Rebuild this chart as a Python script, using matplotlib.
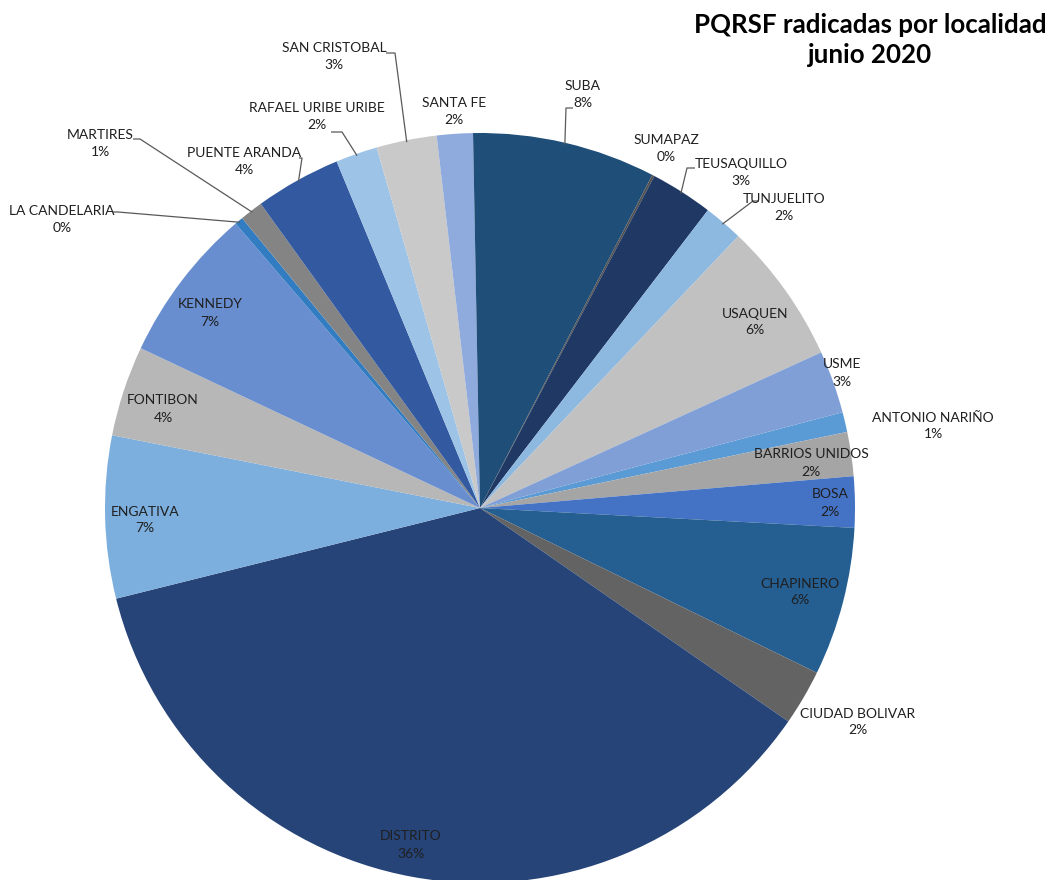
import matplotlib
matplotlib.use("Agg")
import matplotlib.pyplot as plt
import numpy as np

# ---- data (alphabetical order, as in the source table) ----
localidades = ["ANTONIO NARIÑO", "BARRIOS UNIDOS", "BOSA", "CHAPINERO", "CIUDAD BOLIVAR",
               "DISTRITO", "ENGATIVA", "FONTIBON", "KENNEDY", "LA CANDELARIA", "MARTIRES",
               "PUENTE ARANDA", "RAFAEL URIBE URIBE", "SAN CRISTOBAL", "SANTA FE", "SUBA",
               "SUMAPAZ", "TEUSAQUILLO", "TUNJUELITO", "USAQUEN", "USME"]
porcentajes = [0.86, 1.9, 2.2, 6.4, 2.4,
               36.5, 7.0, 3.9, 6.7, 0.36, 1.0,
               3.7, 1.8, 2.6, 1.55, 7.9,
               0.1, 2.7, 1.7, 6.1, 2.7]
colores = ["#5B9BD5", "#A5A5A5", "#4472C4", "#255E91", "#636363",
           "#264478", "#7CAFDD", "#B7B7B7", "#698ED0", "#327DC2", "#848484",
           "#335AA1", "#9DC3E6", "#C9C9C9", "#8FAADC", "#1F4E79",
           "#525252", "#203864", "#8DB8E0", "#C1C1C1", "#7F9FD6"]
titulo = "PQRSF radicadas por localidad\njunio 2020"

# ---- layout (pixel positions of label centres; leader elbow/tail) ----
W, H = 1056, 880
CX, CY, R = 480, 508, 375
label_px = {
    "ANTONIO NARIÑO": (933, 426), "BARRIOS UNIDOS": (811, 463), "BOSA": (830, 503),
    "CHAPINERO": (800, 592), "CIUDAD BOLIVAR": (858, 722), "DISTRITO": (411, 845),
    "ENGATIVA": (145, 520), "FONTIBON": (163, 409), "KENNEDY": (210, 313),
    "LA CANDELARIA": (62, 220), "MARTIRES": (100, 144), "PUENTE ARANDA": (244, 162),
    "RAFAEL URIBE URIBE": (317, 117), "SAN CRISTOBAL": (334, 57), "SANTA FE": (454, 112),
    "SUBA": (583, 95), "SUMAPAZ": (666, 149), "TEUSAQUILLO": (741, 173),
    "TUNJUELITO": (784, 208), "USAQUEN": (755, 322), "USME": (842, 373),
}
leaders = {  # elbow point, tail point (pixels)
    "SUBA": ((566, 108), (573, 108)),
    "TEUSAQUILLO": ((687, 168), (695, 168)),
    "TUNJUELITO": ((753, 201), (759, 201)),
    "LA CANDELARIA": ((118, 212), (113, 212)),
    "MARTIRES": ((140, 139), (133, 139)),
    "PUENTE ARANDA": ((302, 158), (299, 158)),
    "RAFAEL URIBE URIBE": ((342, 132), (331, 132)),
    "SAN CRISTOBAL": ((395, 53), (386, 53)),
}


def p2d(px, py):
    return (px - CX) / R, (CY - py) / R


fig = plt.figure(figsize=(W / 100, H / 100), dpi=100)
ax = fig.add_axes([0, 0, 1, 1])
wedges, _ = ax.pie(porcentajes, colors=colores, startangle=14.8, counterclock=False,
                   radius=1.0, wedgeprops=dict(linewidth=0))
ax.set_xlim(-CX / R, (W - CX) / R)
ax.set_ylim(-(H - CY) / R, CY / R)
ax.set_aspect("equal")
ax.set_axis_off()

total = sum(porcentajes)
font = ["Lato", "DejaVu Sans"]
for w, name, val in zip(wedges, localidades, porcentajes):
    pct = 100 * val / total
    lx, ly = p2d(*label_px[name])
    ax.text(lx, ly, f"{name}\n{pct:.0f}%", ha="center", va="center", fontsize=10,
            family=font, color="#1f1f1f", linespacing=1.5)
    if name in leaders:
        ang = np.deg2rad((w.theta1 + w.theta2) / 2)
        sx, sy = np.cos(ang) * 0.995, np.sin(ang) * 0.995
        (ex, ey), (tx, ty) = leaders[name]
        ex, ey = p2d(ex, ey)
        tx, ty = p2d(tx, ty)
        ax.plot([sx, ex, tx], [sy, ey, ty], color="#595959", lw=0.9, solid_capstyle="butt")

fig.text(870 / W, 1 - 40 / H, titulo, ha="center", va="center", fontsize=18.6,
         fontweight="bold", family=font, color="black", linespacing=1.3)

fig.savefig("out.png", dpi=100)
